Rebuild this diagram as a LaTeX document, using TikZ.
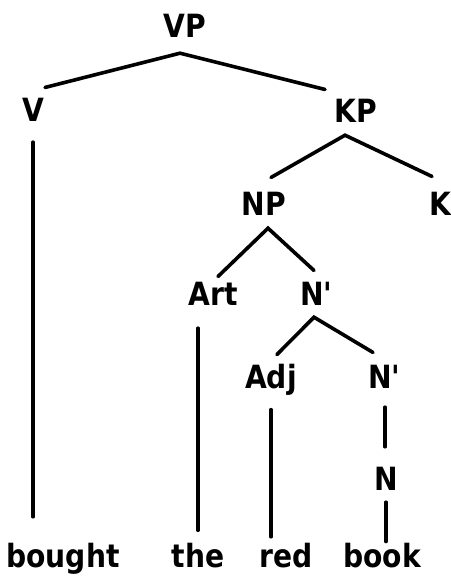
\documentclass[tikz,border=0pt]{standalone}
\usepackage{fontspec}
\newfontfamily\treefont{DejaVu Sans Bold}[FakeStretch=0.88]
\begin{document}
\begin{tikzpicture}[x=1pt,y=-1pt,
    lbl/.style={font=\treefont\fontsize{32}{38}\selectfont, inner sep=0pt, anchor=base},
    branch/.style={line width=3.6pt, line cap=round}]
    \useasboundingbox (0,0) rectangle (450,577);

    % Kategorien
    \node[lbl] (vp) at (185,38) {VP};
    \node[lbl] (v) at (33,122) {V};
    \node[lbl] (kp) at (356,123) {KP};
    \node[lbl] (np) at (264,215) {NP};
    \node[lbl] (k) at (440,215) {K};
    \node[lbl] (art) at (213,305) {Art};
    \node[lbl] (nbar) at (317,305) {N\textquotesingle};
    \node[lbl] (adj) at (271,388) {Adj};
    \node[lbl] (nbarb) at (385,388) {N\textquotesingle};
    \node[lbl] (n) at (386,490) {N};

    % Woerter
    \node[lbl] (bought) at (63,567) {bought};
    \node[lbl] (the) at (198,567) {the};
    \node[lbl] (red) at (286,567) {red};
    \node[lbl] (book) at (382,567) {book};

    % Verzweigungen
    \draw[branch] ([shift={(12,-11)}]v.north) -- ([shift={(-5,15)}]vp.south) -- ([shift={(-31,-10)}]kp.north);
    \draw[branch] ([shift={(7,-14)}]np.north) -- ([shift={(-11,12)}]kp.south) -- ([shift={(-8,-15)}]k.north);
    \draw[branch] ([shift={(5,-5)}]art.north) -- ([shift={(4,13)}]np.south) -- ([shift={(-3,-11)}]nbar.north);
    \draw[branch] ([shift={(6,-9)}]adj.north) -- ([shift={(-3,12)}]nbar.south) -- ([shift={(-12,-12)}]nbarb.north);

    % Senkrechte Linien
    \draw[branch, shorten <=20pt, shorten >=25.7pt] (v.south) -- (v.south |- bought.north);
    \draw[branch, shorten <=23pt, shorten >=12.2pt] (the.north |- art.south) -- (the.north);
    \draw[branch, shorten <=14.5pt, shorten >=5.7pt] (adj.south) -- (adj.south |- red.north);
    \draw[branch, shorten <=19pt, shorten >=19.7pt] (nbarb.south) -- (nbarb.south |- n.north);
    \draw[branch, shorten <=12pt, shorten >=1pt] (n.south) -- (n.south |- book.north);
\end{tikzpicture}
\end{document}
